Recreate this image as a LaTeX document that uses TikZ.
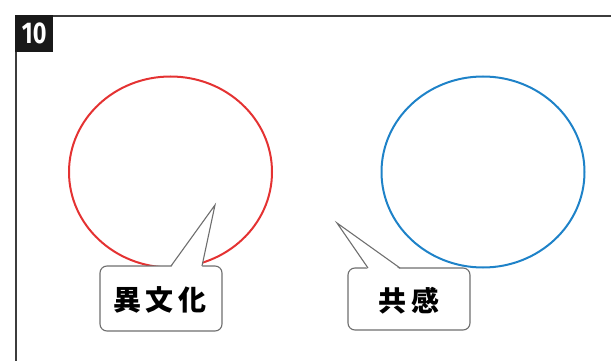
\documentclass[tikz,border=0pt]{standalone}
\usepackage{fontspec}
\setmainfont{Fira Sans}
\newfontfamily\jpfont{Noto Sans CJK JP}
\usetikzlibrary{shapes.geometric}
\definecolor{redc}{RGB}{228,50,50}
\definecolor{bluec}{RGB}{30,130,200}
\definecolor{framec}{RGB}{60,60,60}
\definecolor{bubc}{RGB}{110,110,110}
\tikzset{
  ring/.style={draw, ellipse, line width=2pt, minimum width=203pt, minimum height=191pt, inner sep=0pt},
  bubble/.style={draw=bubc, line width=1.1pt, fill=white, rounded corners=7pt},
  bubtext/.style={font=\jpfont\bfseries\fontsize{28}{28}\selectfont, inner sep=0pt},
}
\begin{document}
\begin{tikzpicture}[x=1pt,y=-1pt]
\useasboundingbox (0,0) rectangle (611,361);
% frame
\draw[framec, line width=2pt] (16,361) -- (16,16) -- (611,16);
\node[fill=black!90, minimum width=38pt, minimum height=37pt, inner sep=0pt, anchor=north west] (num) at (15,15) {};
\node[text=white, font=\bfseries\fontsize{30}{30}\selectfont, inner sep=0pt] at (num.center) {\scalebox{0.78}[1]{10}};
% circles
\node[ring, draw=redc] (c1) at (170.5,172) {};
\node[ring, draw=bluec] (c2) at (483,172) {};
% bubble 1
\draw[bubble] (100,266) rectangle (222,331);
\coordinate (t1) at (215,205);
\fill[white] (171,267.5) -- (t1) -- (202,267.5) -- cycle;
\draw[bubc, line width=1.1pt] (171,266) -- (t1) -- (202,266);
\node[bubtext] (l1) at (160,299.5) {異\hspace{5pt}文\hspace{5pt}化};
% bubble 2
\draw[bubble] (348,268) rectangle (470,330);
\coordinate (t2) at (337,223);
\fill[white] (368,269.5) -- (t2) -- (400,269.5) -- cycle;
\draw[bubc, line width=1.1pt] (368,268) -- (t2) -- (400,268);
\node[bubtext] (l2) at (409,300.5) {共\hspace{5pt}感};
\end{tikzpicture}
\end{document}
